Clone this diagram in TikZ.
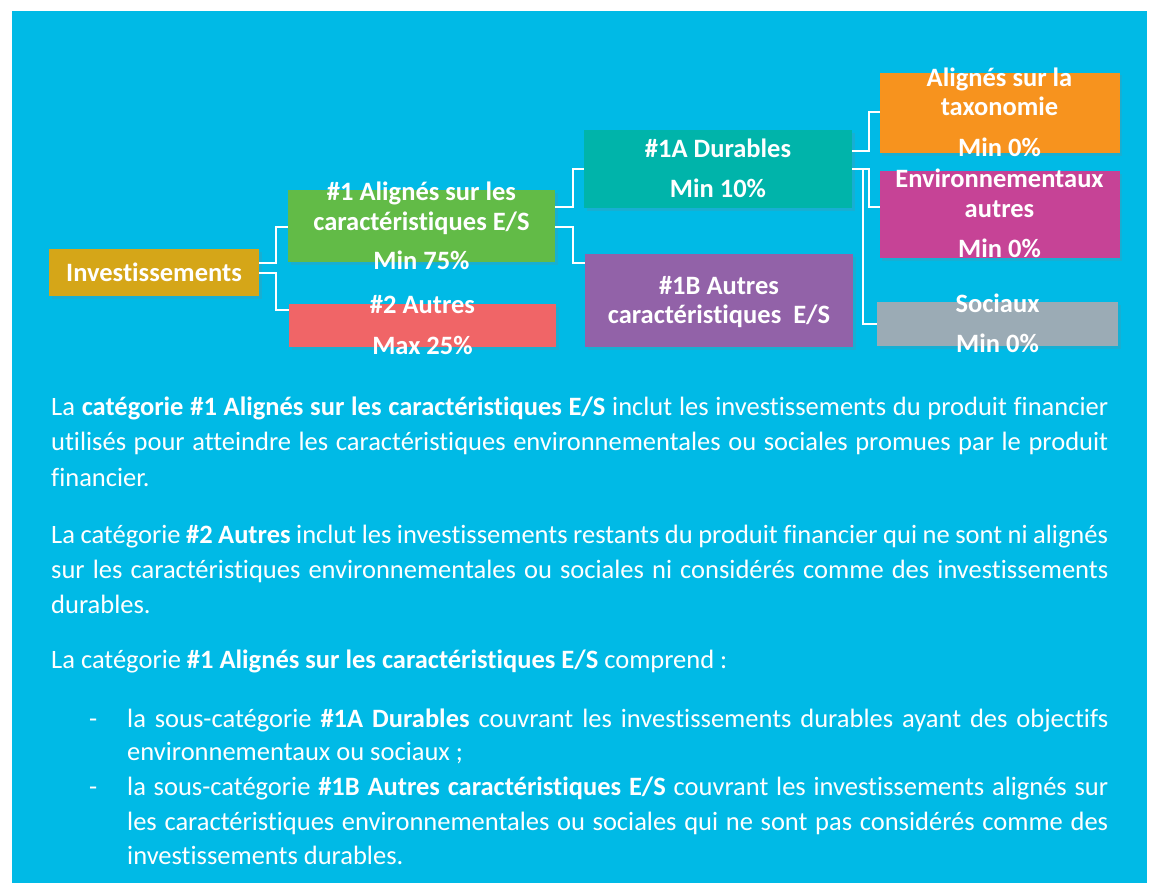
\documentclass[tikz,border=0pt]{standalone}
\usepackage{fontspec}
\setmainfont{Carlito}[Ligatures={TeX,CommonOff}]
\usetikzlibrary{shadows}
\definecolor{bgblue}{RGB}{0,186,230}
\definecolor{cgold}{RGB}{213,166,24}
\definecolor{cgreen}{RGB}{98,187,71}
\definecolor{cred}{RGB}{240,101,103}
\definecolor{cteal}{RGB}{0,180,170}
\definecolor{cpurple}{RGB}{146,98,168}
\definecolor{corange}{RGB}{247,147,30}
\definecolor{cmagenta}{RGB}{198,67,150}
\definecolor{cgrey}{RGB}{155,171,181}
\begin{document}
\begin{tikzpicture}[x=1pt,y=-1pt,
  box/.style={rectangle,draw=none,inner sep=0pt,outer sep=0pt,
    drop shadow={opacity=0.18,shadow xshift=2.5pt,shadow yshift=-2.5pt}},
  conn/.style={draw=white,line width=2pt},
  lbl/.style={anchor=base,inner sep=0pt,text=white,font=\fontsize{26.5}{30}\selectfont\bfseries},
  body/.style={anchor=base west,inner sep=0pt,text=white,font=\fontsize{26.5}{35.5}\selectfont}
]
\useasboundingbox (0,0) rectangle (1149,883);
\fill[white] (0,0) rectangle (1149,883);
\fill[bgblue] (12,11) rectangle (1147,883);

% boxes
\node[box,fill=cgold,minimum width=210pt,minimum height=47pt] (inv) at (154,272.5) {};
\node[box,fill=cgreen,minimum width=267pt,minimum height=72pt] (g1) at (421.5,226) {};
\node[box,fill=cred,minimum width=267pt,minimum height=43pt] (r2) at (422.5,325.5) {};
\node[box,fill=cteal,minimum width=268pt,minimum height=78pt] (d1a) at (718,169) {};
\node[box,fill=cpurple,minimum width=268pt,minimum height=93pt] (d1b) at (719,300.5) {};
\node[box,fill=corange,minimum width=240pt,minimum height=80pt] (tax) at (999.5,113) {};
\node[box,fill=cmagenta,minimum width=240pt,minimum height=87pt] (env) at (999.5,214.5) {};
\node[box,fill=cgrey,minimum width=241pt,minimum height=44pt] (soc) at (997.5,324) {};

% connectors
\draw[conn] (inv.east |- 0,263) -- ++(17,0) |- (g1.west |- 0,227);
\draw[conn] (inv.east |- 0,273) -- ++(17,0) |- (r2.west |- 0,310);
\draw[conn] (g1.east |- 0,207) -- ++(18,0) |- (d1a.west |- 0,169);
\draw[conn] (g1.east |- 0,227) -- ++(18,0) |- (d1b.west |- 0,263);
\draw[conn] (d1a.east |- 0,151) -- ++(17,0) |- (tax.west |- 0,112);
\draw[conn] (d1a.east |- 0,169) -- ++(17,0) |- (env.west |- 0,207);
\draw[conn] (d1a.east |- 0,169) -- ++(11,0) |- (soc.west |- 0,324);

% box labels
\node[lbl] (tinv) at (inv.center |- 0,281) {Investissements};
\node[lbl] (tg1a) at (g1.center |- 0,200) {\#1 Alignés sur les};
\node[lbl] (tg1b) at (g1.center |- 0,230) {caractéristiques E/S};
\node[lbl] (tg1c) at (g1.center |- 0,269) {Min 75\%};
\node[lbl] (tr2a) at (r2.center |- 0,313) {\#2 Autres};
\node[lbl] (tr2b) at (r2.center |- 0,354) {Max 25\%};
\node[lbl] (tda) at (d1a.center |- 0,157) {\#1A Durables};
\node[lbl] (tdb) at (d1a.center |- 0,197) {Min 10\%};
\node[lbl] (tpa) at (d1b.center |- 0,294) {\#1B Autres};
\node[lbl] (tpb) at (d1b.center |- 0,323) {caractéristiques~ E/S};
\node[lbl] (tta) at (tax.center |- 0,86) {Alignés sur la};
\node[lbl] (ttb) at (tax.center |- 0,115) {taxonomie};
\node[lbl] (ttc) at (tax.center |- 0,156) {Min 0\%};
\node[lbl] (tea) at (env.center |- 0,187) {Environnementaux};
\node[lbl] (teb) at (env.center |- 0,217) {autres};
\node[lbl] (tec) at (env.center |- 0,257) {Min 0\%};
\node[lbl] (tsa) at (soc.center |- 0,312) {Sociaux};
\node[lbl] (tsb) at (soc.center |- 0,352) {Min 0\%};

% body text
\node[body] (p1a) at (51,415) {\makebox[1057pt][s]{La \textbf{catégorie \#1 Alignés sur les caractéristiques E/S} inclut les investissements du produit financier}};
\node[body] (p1b) at (51,450.5) {\makebox[1057pt][s]{utilisés pour atteindre les caractéristiques environnementales ou sociales promues par le produit}};
\node[body] (p1c) at (51,486) {financier.};
\node[body] (p2a) at (51,543) {\makebox[1057pt][s]{La catégorie \textbf{\#2 Autres} inclut les investissements restants du produit financier qui ne sont ni alignés}};
\node[body] (p2b) at (51,578.5) {\makebox[1057pt][s]{sur les caractéristiques environnementales ou sociales ni considérés comme des investissements}};
\node[body] (p2c) at (51,613) {durables.};
\node[body] (p3) at (51,668) {La catégorie \textbf{\#1 Alignés sur les caractéristiques E/S} comprend :};
\node[body] (d1) at (89,727) {-};
\node[body] (b1a) at (127,727) {\makebox[981pt][s]{la sous-catégorie \textbf{\#1A Durables} couvrant les investissements durables ayant des objectifs}};
\node[body] (b1b) at (127,760.5) {environnementaux ou sociaux ;};
\node[body] (d2) at (89,795) {-};
\node[body] (b2a) at (127,795) {\makebox[981pt][s]{la sous-catégorie \textbf{\#1B Autres caractéristiques E/S} couvrant les investissements alignés sur}};
\node[body] (b2b) at (127,830) {\makebox[981pt][s]{les caractéristiques environnementales ou sociales qui ne sont pas considérés comme des}};
\node[body] (b2c) at (127,864.5) {investissements durables.};
\end{tikzpicture}
\end{document}
